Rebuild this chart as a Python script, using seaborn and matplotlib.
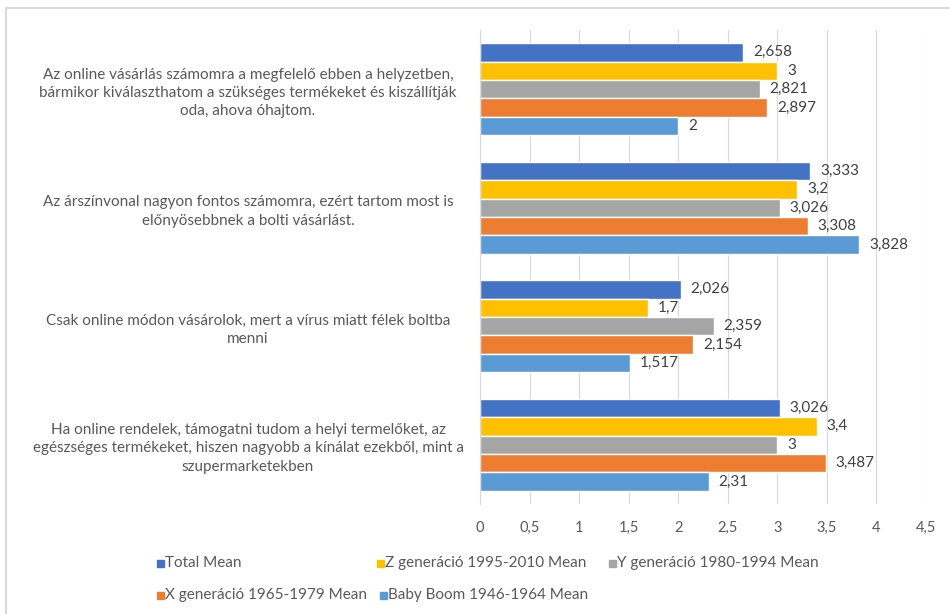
import matplotlib
matplotlib.use("Agg")
import matplotlib.pyplot as plt
from matplotlib.patches import Rectangle
import seaborn as sns
import pandas as pd

# Survey statements (top to bottom)
statements = [
    "Az online vásárlás számomra a megfelelő ebben a helyzetben,\nbármikor kiválaszthatom a szükséges termékeket és kiszállítják\noda, ahova óhajtom.",
    "Az árszínvonal nagyon fontos számomra, ezért tartom most is\nelőnyösebbnek a bolti vásárlást.",
    "Csak online módon vásárolok, mert a vírus miatt félek boltba\nmenni",
    "Ha online rendelek, támogatni tudom a helyi termelőket, az\negészséges termékeket, hiszen nagyobb a kínálat ezekből, mint a\nszupermarketekben",
]

groups = [
    "Total Mean",
    "Z generáció 1995-2010 Mean",
    "Y generáció 1980-1994 Mean",
    "X generáció 1965-1979 Mean",
    "Baby Boom 1946-1964 Mean",
]

total_mean = [2.658, 3.333, 2.026, 3.026]
gen_z_mean = [3.0, 3.2, 1.7, 3.4]
gen_y_mean = [2.821, 3.026, 2.359, 3.0]
gen_x_mean = [2.897, 3.308, 2.154, 3.487]
boomer_mean = [2.0, 3.828, 1.517, 2.31]

x_ticks = [0, 0.5, 1, 1.5, 2, 2.5, 3, 3.5, 4, 4.5]

colors = ["#4472C4", "#FFC000", "#A5A5A5", "#ED7D31", "#5B9BD5"]

series = [total_mean, gen_z_mean, gen_y_mean, gen_x_mean, boomer_mean]
rows = []
for g, vals in zip(groups, series):
    for s, v in zip(statements, vals):
        rows.append({"statement": s, "group": g, "value": v})
df = pd.DataFrame(rows)

sns.set_style("white")
plt.rcParams["font.family"] = ["Lato", "DejaVu Sans"]

W, H = 950, 614
fig = plt.figure(figsize=(W / 100, H / 100), dpi=100)
ax = fig.add_axes([480 / W, 1 - 504 / H, 446 / W, 474 / H])

sns.barplot(
    data=df, y="statement", x="value", hue="group",
    order=statements, hue_order=groups, palette=colors,
    orient="h", width=0.78, saturation=1, legend=False, ax=ax,
)

def fmt(v):
    return f"{v:g}".replace(".", ",")

for cont, vals in zip(ax.containers, series):
    ax.bar_label(cont, labels=[fmt(v) for v in vals], padding=7,
                 fontsize=11, color="#404040")

ax.set_xlim(0, 4.5)
ax.set_xticks(x_ticks)
ax.set_xticklabels([fmt(t) for t in x_ticks])
ax.set_xlabel("")
ax.set_ylabel("")
ax.grid(axis="x", color="#D9D9D9", lw=0.8)
ax.set_axisbelow(True)
for side in ["top", "right", "bottom"]:
    ax.spines[side].set_visible(False)
ax.spines["left"].set_color("#D9D9D9")
ax.spines["left"].set_linewidth(0.8)

ax.tick_params(axis="x", length=0, pad=12, labelsize=10.5, labelcolor="#595959")
ax.tick_params(axis="y", length=0, pad=167, labelsize=11, labelcolor="#595959")
for lab in ax.get_yticklabels():
    lab.set_ha("center")
    lab.set_multialignment("center")
    lab.set_linespacing(1.4)

# legend laid out in two rows
legend_items = [
    (157, 563, 0), (377, 563, 1), (609, 563, 2),
    (157, 595, 3), (380, 595, 4),
]
for px, py, i in legend_items:
    fig.patches.append(Rectangle((px / W, 1 - (py + 3.5) / H), 7 / W, 7 / H,
                                 transform=fig.transFigure, color=colors[i]))
    fig.text((px + 8) / W, 1 - py / H, groups[i], fontsize=11,
             color="#595959", va="center", ha="left")

# chart frame
fig.add_artist(plt.Line2D([6 / W, 1], [1 - 8 / H, 1 - 8 / H],
                          transform=fig.transFigure, color="#D9D9D9", lw=1.5))
fig.add_artist(plt.Line2D([6 / W, 6 / W], [0, 1 - 8 / H],
                          transform=fig.transFigure, color="#D9D9D9", lw=1.5))

fig.savefig("out.png", dpi=100, facecolor="white")
